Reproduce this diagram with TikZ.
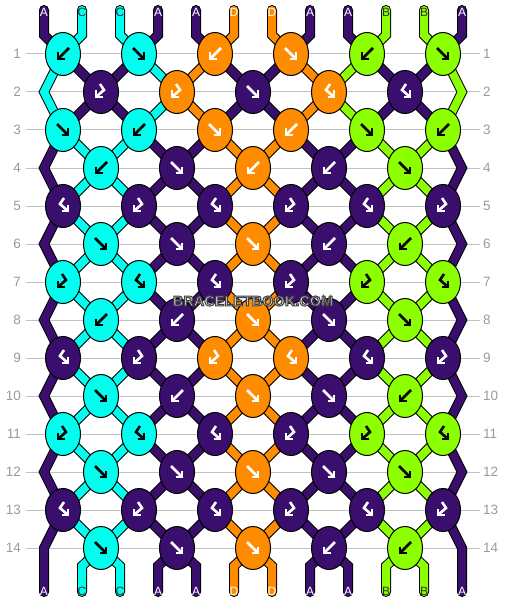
\documentclass[tikz,border=0pt]{standalone}
\usepackage{fontspec}
\setmainfont{Liberation Sans}
\usetikzlibrary{shapes.geometric,calc}
\definecolor{colA}{HTML}{3A0E6D}
\definecolor{colC}{HTML}{00FFEE}
\definecolor{colD}{HTML}{FF8C00}
\definecolor{colB}{HTML}{8CFF00}
\colorlet{icA}{white}\colorlet{icD}{white}\colorlet{icC}{black}\colorlet{icB}{black}
\colorlet{labA}{white}\colorlet{labD}{white}\definecolor{labC}{HTML}{303030}\definecolor{labB}{HTML}{303030}
\definecolor{gridgray}{HTML}{C0C0C0}
\definecolor{labgray}{HTML}{9A9A9A}
\definecolor{wmfill}{HTML}{D4D4D4}
\newcommand\wmtext[1]{\special{pdf:literal direct 2 Tr 1.0 w 0.25 0.25 0.25 RG}#1\special{pdf:literal direct 0 Tr}}
\begin{document}
\begin{tikzpicture}[x=1pt,y=-1pt,
 str/.style={draw=black,line width=1pt,double distance=8pt,line cap=round,line join=miter},
 knot/.style={ellipse,draw=black,line width=1pt,minimum width=35pt,minimum height=43pt,inner sep=0pt},
 rowline/.style={draw=gridgray,line width=1pt},
 rowlab/.style={text=labgray,font=\fontsize{13.5}{14}\selectfont,inner sep=0pt},
 strlab/.style={font=\fontsize{12}{12}\selectfont,inner sep=0pt},
 wm/.style={text=wmfill,font=\fontsize{14.5}{14.5}\selectfont\bfseries,inner sep=0pt},
 ic/.style={line width=2.6pt,line cap=butt,line join=miter},
 icF/.pic={\draw[ic] (-6,-6)--(4.5,4.5); \draw[ic] (-1.5,5)--(5,5)--(5,-1.5);},
 icB/.pic={\draw[ic] (6,-6)--(-4.5,4.5); \draw[ic] (1.5,5)--(-5,5)--(-5,-1.5);},
 icFB/.pic={\draw[ic] (1,-8)--(-3,-2)--(4.5,4.5); \draw[ic] (-1.5,5)--(5,5)--(5,-1.5);},
 icBF/.pic={\draw[ic] (-1,-8)--(3,-2)--(-4.5,4.5); \draw[ic] (1.5,5)--(-5,5)--(-5,-1.5);}
]
\useasboundingbox (0,0) rectangle (506,604);
% grid lines and row numbers
\foreach \r in {1,...,14} {
  \pgfmathsetmacro\yy{54+38*(\r-1)}
  \draw[rowline] (26,\yy) -- (480,\yy);
  \node[rowlab,anchor=east] (ll\r) at (21,\yy) {\r};
  \node[rowlab,anchor=west] (rl\r) at (483,\yy) {\r};
}
% coordinates
\foreach \r in {1,3,...,13} \foreach \i in {0,...,5}
  \coordinate (c\r-\i) at ({63+76*\i},{54+38*(\r-1)});
\foreach \r in {2,4,...,14} {
  \foreach \i in {0,...,4} \coordinate (c\r-\i) at ({101+76*\i},{54+38*(\r-1)});
  \coordinate (L\r) at (44,{54+38*(\r-1)});
  \coordinate (R\r) at (462,{54+38*(\r-1)});
}
\foreach \p in {0,...,11} {
  \coordinate (t\p) at ({44+38*\p},10);
  \coordinate (tb\p) at ({44+38*\p},35);
  \coordinate (bb\p) at ({44+38*\p},566);
  \coordinate (b\p) at ({44+38*\p},592);
}
% top strings
\foreach \p/\c in {0/A,1/C,2/C,3/A,4/A,5/D,6/D,7/A,8/A,9/B,10/B,11/A} {
  \pgfmathtruncatemacro\ia{floor(\p/2)}
  \draw[str,double=col\c] (t\p) -- (tb\p) -- (c1-\ia);
}
% inner strings
\def\Sone{1/A,2/A,3/C,4/D,5/A,6/A,7/D,8/B,9/A,10/A}
\def\Szero{1/C,2/C,3/A,4/A,5/D,6/D,7/A,8/A,9/B,10/B}
\foreach \r in {1,...,13} {
  \pgfmathtruncatemacro\rn{\r+1}
  \ifnum\r<3 \let\st\Sone \else \let\st\Szero \fi
  \foreach \p/\c in \st {
    \pgfmathtruncatemacro\ia{floor(\p/2)}
    \pgfmathtruncatemacro\ib{floor((\p-1)/2)}
    \ifodd\r\relax
      \draw[str,double=col\c] (c\r-\ia) -- (c\rn-\ib);
    \else
      \draw[str,double=col\c] (c\r-\ib) -- (c\rn-\ia);
    \fi
  }
}
% edge strings
\draw[str,double=colC] (c1-0) -- (L2) -- (c3-0);
\draw[str,double=colB] (c1-5) -- (R2) -- (c3-5);
\foreach \r in {3,5,...,11} {
  \pgfmathtruncatemacro\ra{\r+1}
  \pgfmathtruncatemacro\rb{\r+2}
  \draw[str,double=colA] (c\r-0) -- (L\ra) -- (c\rb-0);
  \draw[str,double=colA] (c\r-5) -- (R\ra) -- (c\rb-5);
}
\draw[str,double=colA] (c13-0) -- (L14) -- (b0);
\draw[str,double=colA] (c13-5) -- (R14) -- (b11);
% bottom strings
\foreach \p/\c in \Szero {
  \pgfmathtruncatemacro\ib{floor((\p-1)/2)}
  \draw[str,double=col\c] (c14-\ib) -- (bb\p) -- (b\p);
}
% string labels
\foreach \p/\c in {0/A,1/C,2/C,3/A,4/A,5/D,6/D,7/A,8/A,9/B,10/B,11/A} {
  \node[strlab,text=lab\c] (tl\p) at ({44+38*\p},12) {\c};
  \node[strlab,text=lab\c] (bl\p) at ({44+38*\p},591) {\c};
}
% knots
\foreach \r/\lst in {
 1/{0/C/B,1/C/F,2/D/B,3/D/F,4/B/B,5/B/F},
 2/{0/A/BF,1/D/BF,2/A/F,3/D/FB,4/A/FB},
 3/{0/C/F,1/C/B,2/D/F,3/D/B,4/B/F,5/B/B},
 4/{0/C/B,1/A/F,2/D/B,3/A/B,4/B/F},
 5/{0/A/FB,1/A/BF,2/A/FB,3/A/BF,4/A/FB,5/A/BF},
 6/{0/C/F,1/A/F,2/D/F,3/A/B,4/B/B},
 7/{0/C/BF,1/C/FB,2/A/FB,3/A/BF,4/B/BF,5/B/FB},
 8/{0/C/B,1/A/B,2/D/F,3/A/F,4/B/F},
 9/{0/A/FB,1/A/BF,2/D/BF,3/D/FB,4/A/FB,5/A/BF},
 10/{0/C/F,1/A/B,2/D/F,3/A/F,4/B/B},
 11/{0/C/BF,1/C/FB,2/A/FB,3/A/BF,4/B/BF,5/B/FB},
 12/{0/C/F,1/A/F,2/D/F,3/A/F,4/B/F},
 13/{0/A/FB,1/A/BF,2/A/FB,3/A/BF,4/A/FB,5/A/BF},
 14/{0/C/F,1/A/F,2/D/F,3/A/B,4/B/B}} {
  \foreach \i/\c/\t in \lst {
    \node[knot,fill=col\c] (k\r-\i) at (c\r-\i) {};
    \pic[color=ic\c] at (k\r-\i) {ic\t};
  }
}
% watermark
\node[wm] (wm) at (253,301) {\wmtext{BRACELETBOOK.COM}};
\end{tikzpicture}
\end{document}
